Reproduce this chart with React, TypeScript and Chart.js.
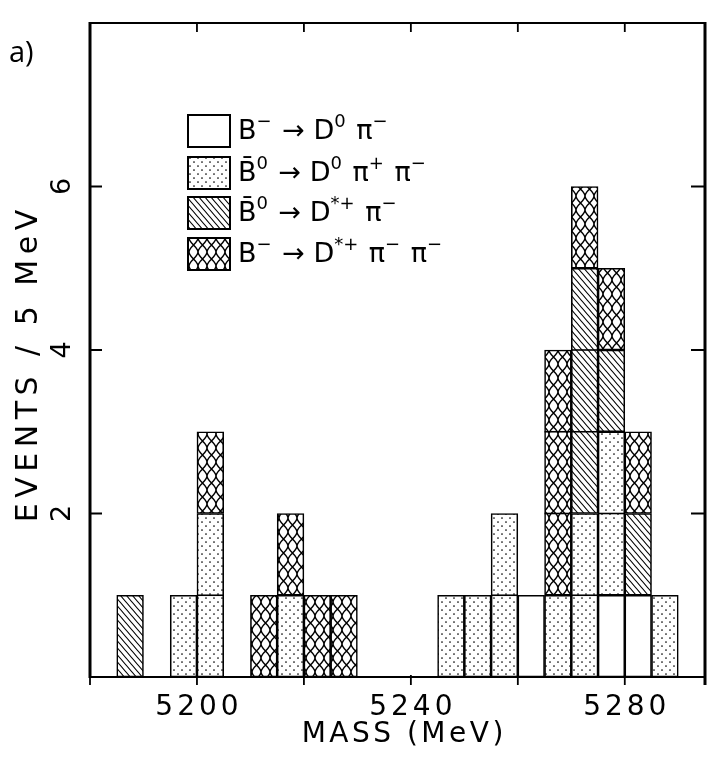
import { useEffect, useRef } from 'react';
import { Chart, registerables } from 'chart.js';

Chart.register(...registerables);

// ---- data ----
const binStarts = [5180, 5185, 5190, 5195, 5200, 5205, 5210, 5215, 5220, 5225, 5230, 5235, 5240, 5245, 5250, 5255, 5260, 5265, 5270, 5275, 5280, 5285, 5290];
const binWidth = 5;
const bMinusD0Pi = [0, 0, 0, 0, 0, 0, 0, 0, 0, 0, 0, 0, 0, 0, 0, 0, 1, 0, 0, 1, 1, 0, 0];
const b0barD0PiPi = [0, 0, 0, 1, 2, 0, 0, 1, 0, 0, 0, 0, 0, 1, 1, 2, 0, 1, 2, 2, 0, 1, 0];
const b0barDstarPi = [0, 1, 0, 0, 0, 0, 0, 0, 0, 0, 0, 0, 0, 0, 0, 0, 0, 0, 3, 1, 1, 0, 0];
const bMinusDstarPiPi = [0, 0, 0, 0, 1, 0, 1, 1, 1, 1, 0, 0, 0, 0, 0, 0, 0, 3, 1, 1, 1, 0, 0];

const seriesNames = ['B⁻ → D⁰ π⁻', 'B̄⁰ → D⁰ π⁺ π⁻', 'B̄⁰ → D*⁺ π⁻', 'B⁻ → D*⁺ π⁻ π⁻'];
// legend text segments: [text, isSuperscript]
const legendLabels: [string, number][][] = [
  [['B', 0], ['−', 1], [' → ', 0], ['D', 0], ['0', 1], [' ', 0], ['π', 0], ['−', 1]],
  [['B̄', 0], ['0', 1], [' → ', 0], ['D', 0], ['0', 1], [' ', 0], ['π', 0], ['+', 1], [' ', 0], ['π', 0], ['−', 1]],
  [['B̄', 0], ['0', 1], [' → ', 0], ['D', 0], ['*+', 1], [' ', 0], ['π', 0], ['−', 1]],
  [['B', 0], ['−', 1], [' → ', 0], ['D', 0], ['*+', 1], [' ', 0], ['π', 0], ['−', 1], [' ', 0], ['π', 0], ['−', 1]],
];

const xMin = 5180;
const xMax = 5295;
const yMin = 0;
const yMax = 8;
const xTickValues = [5200, 5220, 5240, 5260, 5280];
const xTickLabels = ['5200', '', '5240', '', '5280'];
const yTickValues = [2, 4, 6];
const yTickLabels = ['2', '4', '6'];
const xTitle = 'MASS (MeV)';
const yTitle = 'EVENTS / 5 MeV';
const panelLabel = 'a)';

const FONT = '"DejaVu Sans", sans-serif';

function makeTile(kind: string) {
  const c = document.createElement('canvas');
  let w = 8, h = 8;
  if (kind === 'hatch') { w = 6; h = 7; }
  if (kind === 'cross') { w = 9; h = 14; }
  c.width = w; c.height = h;
  const g = c.getContext('2d')!;
  g.fillStyle = '#fff';
  g.fillRect(0, 0, w, h);
  g.strokeStyle = '#000';
  g.fillStyle = '#000';
  if (kind === 'dots') {
    g.beginPath();
    g.arc(2, 2, 0.85, 0, Math.PI * 2);
    g.moveTo(6.85, 6);
    g.arc(6, 6, 0.85, 0, Math.PI * 2);
    g.fill();
  } else if (kind === 'hatch') {
    g.lineWidth = 1.1;
    g.beginPath();
    g.moveTo(-1, -7 / 6); g.lineTo(7, 7 + 7 / 6);
    g.moveTo(5, -7 / 6); g.lineTo(7, 7 / 6);
    g.moveTo(-1, 7 - 7 / 6); g.lineTo(1, 7 + 7 / 6);
    g.stroke();
  } else if (kind === 'cross') {
    g.lineWidth = 1.5;
    g.beginPath();
    g.moveTo(0, 0); g.bezierCurveTo(0, 5, 9, 9, 9, 14);
    g.moveTo(9, 0); g.bezierCurveTo(9, 5, 0, 9, 0, 14);
    g.stroke();
  }
  return c;
}

function drawText(ctx: any, s: string, x: number, y: number, size: number, spacing: number, align: string, rot = 0, family = FONT, baseline = 'middle') {
  ctx.save();
  ctx.translate(x, y);
  if (rot) ctx.rotate(rot);
  ctx.font = `${size}px ${family}`;
  ctx.letterSpacing = `${spacing}px`;
  ctx.textAlign = align;
  ctx.textBaseline = baseline;
  ctx.fillStyle = '#000';
  ctx.fillText(s, align === 'center' ? spacing / 2 : 0, 0);
  ctx.restore();
}

export default function App() {
  const ref = useRef<HTMLCanvasElement | null>(null);

  useEffect(() => {
    const canvas = ref.current!;
    const ctx0 = canvas.getContext('2d')!;
    const patterns = [
      '#ffffff',
      ctx0.createPattern(makeTile('dots'), 'repeat'),
      ctx0.createPattern(makeTile('hatch'), 'repeat'),
      ctx0.createPattern(makeTile('cross'), 'repeat'),
    ];
    const seriesValues = [bMinusD0Pi, b0barD0PiPi, b0barDstarPi, bMinusDstarPiPi];

    const decor = {
      id: 'decor',
      afterDatasetsDraw(chart: any) {
        const ctx = chart.ctx;
        const ys = chart.scales.y;
        const unit = ys.getPixelForValue(0) - ys.getPixelForValue(1);
        // individual event boxes
        ctx.save();
        ctx.strokeStyle = '#000';
        ctx.lineWidth = 1.6;
        chart.data.datasets.forEach((ds: any, di: number) => {
          const meta = chart.getDatasetMeta(di);
          meta.data.forEach((el: any, i: number) => {
            const v = ds.data[i].y;
            if (!v || v < 2) return;
            const p = el.getProps(['x', 'base', 'width'], true);
            for (let k = 1; k < v; k++) {
              const yy = p.base - k * unit;
              ctx.beginPath();
              ctx.moveTo(p.x - p.width / 2, yy);
              ctx.lineTo(p.x + p.width / 2, yy);
              ctx.stroke();
            }
          });
        });
        ctx.restore();
      },
      afterDraw(chart: any) {
        const ctx = chart.ctx;
        const a = chart.chartArea;
        const xs = chart.scales.x;
        const ys = chart.scales.y;
        ctx.save();
        ctx.strokeStyle = '#000';
        // frame
        ctx.lineWidth = 2.2;
        ctx.beginPath();
        ctx.moveTo(a.left, a.top); ctx.lineTo(a.right, a.top);
        ctx.moveTo(a.left, a.bottom); ctx.lineTo(a.right, a.bottom);
        ctx.stroke();
        ctx.lineWidth = 3;
        ctx.beginPath();
        ctx.moveTo(a.left, a.top - 1); ctx.lineTo(a.left, a.bottom + 1);
        ctx.moveTo(a.right, a.top - 1); ctx.lineTo(a.right, a.bottom + 8);
        ctx.stroke();
        // x ticks
        ctx.lineWidth = 1.8;
        xTickValues.forEach((v) => {
          const px = xs.getPixelForValue(v);
          ctx.beginPath();
          ctx.moveTo(px, a.bottom - 2); ctx.lineTo(px, a.bottom + 8);
          ctx.moveTo(px, a.top); ctx.lineTo(px, a.top + 9);
          ctx.stroke();
        });
        ctx.beginPath();
        ctx.moveTo(a.left, a.bottom); ctx.lineTo(a.left, a.bottom + 8);
        ctx.stroke();
        // y ticks
        yTickValues.forEach((v) => {
          const py = ys.getPixelForValue(v);
          ctx.beginPath();
          ctx.moveTo(a.left, py); ctx.lineTo(a.left + 12, py);
          ctx.moveTo(a.right, py); ctx.lineTo(a.right - 14, py);
          ctx.stroke();
        });
        ctx.restore();

        // tick labels
        xTickValues.forEach((v, i) => {
          if (!xTickLabels[i]) return;
          drawText(ctx, xTickLabels[i], xs.getPixelForValue(v), a.bottom + 31, 28, 4, 'center');
        });
        yTickValues.forEach((v, i) => {
          drawText(ctx, yTickLabels[i], a.left - 27, ys.getPixelForValue(v), 27, 0, 'center', -Math.PI / 2);
        });
        // axis titles
        drawText(ctx, xTitle, (a.left + a.right) / 2 + 5, a.bottom + 58, 28, 3.5, 'center');
        drawText(ctx, yTitle, a.left - 61, (a.top + a.bottom) / 2 + 16, 30, 5.5, 'center', -Math.PI / 2);
        // panel label
        drawText(ctx, panelLabel, 9, 62, 29, 0, 'left', 0, '"Open Sans", sans-serif', 'alphabetic');

        // legend
        const boxX = a.left + 98;
        const boxW = 42;
        const boxH = 32;
        const rowTops = [115, 157, 197, 238];
        legendLabels.forEach((segs, r) => {
          const top = rowTops[r];
          ctx.save();
          ctx.fillStyle = patterns[r] as any;
          ctx.fillRect(boxX, top, boxW, boxH);
          ctx.lineWidth = 2;
          ctx.strokeStyle = '#000';
          ctx.strokeRect(boxX, top, boxW, boxH);
          ctx.restore();
          let cx = boxX + boxW + 8;
          const mid = top + boxH / 2 + 1;
          segs.forEach(([t, sup]) => {
            ctx.save();
            const size = sup ? 18 : 27;
            ctx.font = `${size}px ${FONT}`;
            ctx.letterSpacing = '0px';
            ctx.textAlign = 'left';
            ctx.textBaseline = 'middle';
            ctx.fillStyle = '#000';
            ctx.fillText(t, cx, sup ? mid - 10 : mid);
            cx += ctx.measureText(t).width + (sup ? 2 : 0);
            ctx.restore();
          });
        });
      },
    };

    const chart = new Chart(canvas, {
      type: 'bar',
      data: {
        datasets: seriesValues.map((vals, si) => ({
          label: seriesNames[si],
          data: binStarts.map((b, i) => ({ x: b + binWidth / 2, y: vals[i] ? vals[i] : null })),
          backgroundColor: patterns[si] as any,
          borderColor: '#000',
          borderWidth: 1.6,
          borderSkipped: false,
          categoryPercentage: 1,
          barPercentage: 1,
        })),
      },
      options: {
        animation: false,
        responsive: false,
        layout: { padding: { left: 90, top: 23, right: 15, bottom: 88 } },
        scales: {
          x: { type: 'linear', min: xMin, max: xMax, offset: false, stacked: true, display: false },
          y: { type: 'linear', min: yMin, max: yMax, stacked: true, display: false },
        },
        plugins: { legend: { display: false }, tooltip: { enabled: false } },
      } as any,
      plugins: [decor],
    });
    return () => chart.destroy();
  }, []);

  return (
    <div style={{ position: 'absolute', left: 0, top: 0, width: 720, height: 765, background: '#fff' }}>
      <canvas ref={ref} width={720} height={765} style={{ width: 720, height: 765, display: 'block' }} />
    </div>
  );
}
